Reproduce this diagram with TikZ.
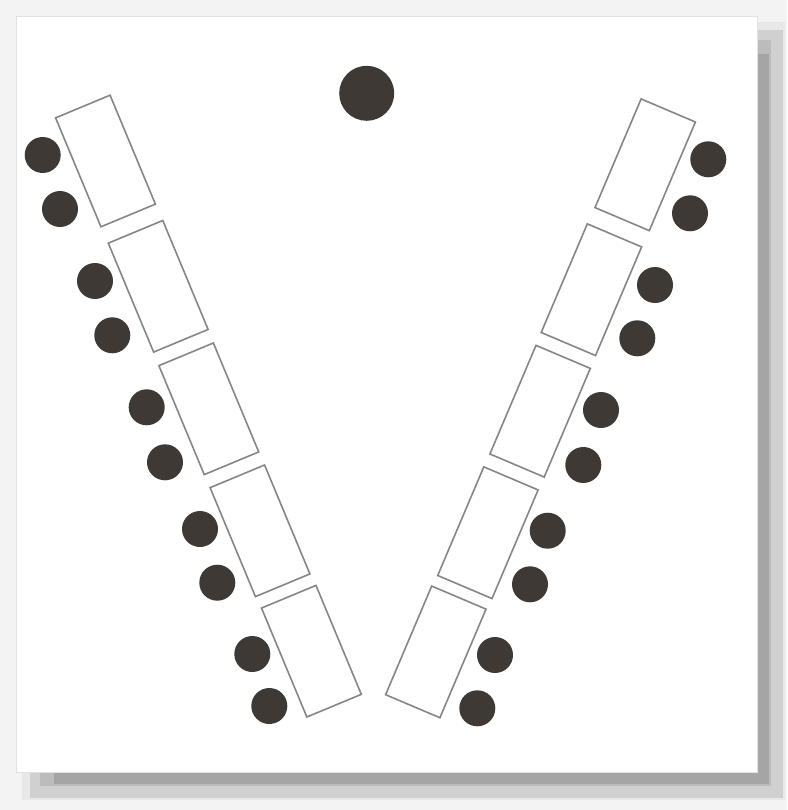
\documentclass[tikz,border=0pt]{standalone}
\usetikzlibrary{calc}
\definecolor{bgout}{HTML}{F3F3F3}
\definecolor{shA}{HTML}{E8E8E8}
\definecolor{shB}{HTML}{D0D0D0}
\definecolor{shC}{HTML}{BCBCBC}
\definecolor{shD}{HTML}{A5A5A5}
\definecolor{pageedge}{HTML}{E2E2E2}
\definecolor{chaircol}{HTML}{3F3936}
\definecolor{tableline}{HTML}{868686}
\tikzset{
  tablebox/.style={draw=tableline, line width=1.6pt, fill=white, inner sep=0pt,
    minimum width=59pt, minimum height=118pt},
  chair/.style={circle, fill=chaircol, inner sep=0pt, minimum size=36pt},
  teacher/.style={circle, fill=chaircol, inner sep=0pt, minimum size=55pt},
  lefttable/.style={tablebox, rotate=22.6},
  righttable/.style={tablebox, rotate=-23},
}
\begin{document}
\begin{tikzpicture}[x=1pt,y=-1pt]
\useasboundingbox (0,0) rectangle (787,810);
% background and page shadow
\fill[bgout] (0,0) rectangle (787,810);
\fill[shA] (22,22) rectangle (785,800);
\fill[shB] (30,30) rectangle (783,798);
\fill[shC] (40,40) rectangle (771,786);
\fill[shD] (54,54) rectangle (769,784);
\filldraw[fill=white, draw=pageedge, line width=0.8pt] (16,16) rectangle (757,772);

% teacher
\node[teacher] (teacher) at (366.7,93.3) {};

% left row of tables
\node[lefttable] (L1) at (105.5,161) {};
\node[lefttable] (L2) at (158.2,286.3) {};
\node[lefttable] (L3) at (208.8,408.8) {};
\node[lefttable] (L4) at (260,530.8) {};
\node[lefttable] (L5) at (311.4,651.2) {};

% left chairs
\node[chair] (L1a) at (42.7,155) {};
\node[chair] (L1b) at (60,209) {};
\node[chair] (L2a) at (95,281) {};
\node[chair] (L2b) at (112.3,335.3) {};
\node[chair] (L3a) at (146.7,407.3) {};
\node[chair] (L3b) at (165,462.3) {};
\node[chair] (L4a) at (200,529) {};
\node[chair] (L4b) at (217.3,582.7) {};
\node[chair] (L5a) at (252.3,654) {};
\node[chair] (L5b) at (269.3,706) {};

% right row of tables
\node[righttable] (R1) at (645.2,164.8) {};
\node[righttable] (R2) at (591.4,289.7) {};
\node[righttable] (R3) at (540.1,411.2) {};
\node[righttable] (R4) at (487.9,532.7) {};
\node[righttable] (R5) at (435.8,651.9) {};

% right chairs
\node[chair] (R1a) at (708.3,159.3) {};
\node[chair] (R1b) at (690,213.3) {};
\node[chair] (R2a) at (655,285) {};
\node[chair] (R2b) at (637.3,338.3) {};
\node[chair] (R3a) at (601,410) {};
\node[chair] (R3b) at (583.3,465) {};
\node[chair] (R4a) at (547.7,530.7) {};
\node[chair] (R4b) at (530,584.3) {};
\node[chair] (R5a) at (495,655) {};
\node[chair] (R5b) at (477.3,708.3) {};
\end{tikzpicture}
\end{document}
